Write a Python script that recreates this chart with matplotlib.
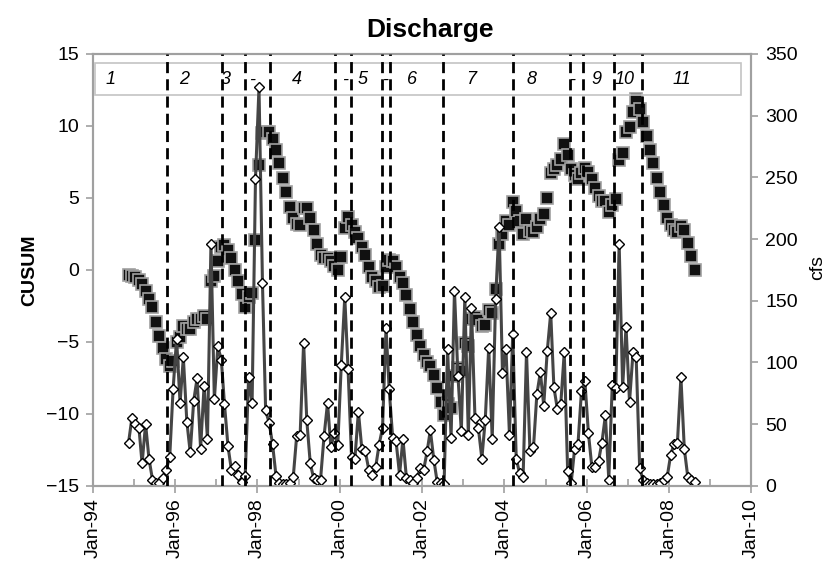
import matplotlib
matplotlib.use("Agg")
import matplotlib.pyplot as plt
import matplotlib.dates as mdates
from matplotlib.patches import Rectangle
import pandas as pd

plt.rcParams['font.family'] = ['Liberation Sans', 'DejaVu Sans']

# monthly observations, Nov 1994 - Aug 2008 (plotted mid-month)
months = pd.date_range('1994-11-01', '2008-08-01', freq='MS') + pd.Timedelta(days=14)

# mean monthly discharge (cfs), one row per year
discharge = [
    35, 55,
    50, 47, 18, 50, 22, 5, 2, 2, 6, 13, 23, 78,
    119, 67, 104, 52, 27, 69, 87, 30, 81, 38, 196, 70,
    113, 102, 66, 32, 13, 16, 9, 3, 8, 88, 67, 249,
    323, 164, 61, 51, 34, 8, 2, 1, 1, 2, 7, 40,
    41, 116, 53, 18, 6, 5, 5, 40, 67, 31, 43, 33,
    98, 153, 95, 23, 22, 60, 30, 28, 13, 9, 15, 33,
    47, 128, 78, 39, 36, 9, 38, 6, 5, 2, 6, 14,
    13, 28, 45, 21, 3, 2, 1, 111, 39, 158, 89, 44,
    153, 41, 144, 55, 47, 22, 53, 112, 38, 151, 210, 91,
    111, 41, 123, 22, 10, 7, 108, 28, 31, 74, 92, 65,
    109, 140, 80, 62, 66, 108, 12, 2, 30, 34, 77, 85,
    43, 15, 15, 20, 35, 57, 5, 82, 79, 196, 80, 129,
    68, 108, 104, 14, 5, 2, 1, 1, 1, 2, 5, 7,
    25, 34, 35, 88, 30, 7, 5, 3,
]

# cumulative sum of standardised anomalies
cusum = [
    -0.35, -0.4,
    -0.5, -0.7, -1.0, -1.5, -2.0, -2.6, -3.6, -4.6, -5.4, -6.2, -6.7, -6.3,
    -5.0, -4.7, -3.9, -4.1, -4.1, -3.6, -3.4, -3.4, -3.2, -3.4, -0.8, -0.4,
    0.6, 1.6, 1.7, 1.4, 0.8, 0.0, -0.8, -1.7, -2.6, -1.9, -1.6, 2.1,
    7.3, 9.5, 9.6, 9.6, 9.1, 8.3, 7.4, 6.4, 5.4, 4.4, 3.6, 3.2,
    3.1, 4.3, 4.3, 3.6, 2.8, 1.8, 1.0, 0.8, 0.8, 0.6, 0.3, 0.0,
    0.9, 2.9, 3.7, 3.1, 2.6, 2.2, 1.6, 1.0, 0.2, -0.5, -0.8, -1.2,
    -1.1, 0.2, 0.7, 0.6, 0.2, -0.5, -0.9, -1.75, -2.7, -3.6, -4.5, -5.3,
    -5.9, -6.4, -6.7, -7.3, -8.2, -9.2, -10.1, -9.3, -9.6, -7.4, -6.8, -7.0,
    -5.1, -5.3, -3.4, -3.3, -3.5, -3.9, -3.8, -2.8, -3.0, -1.3, 1.8, 2.5,
    3.4, 3.1, 4.7, 4.1, 3.4, 2.5, 3.5, 2.7, 2.6, 3.0, 3.5, 3.9,
    5.0, 6.7, 7.0, 7.3, 7.7, 8.75, 8.0, 7.0, 6.6, 6.3, 6.7, 7.1,
    6.8, 6.3, 5.7, 5.1, 4.8, 4.8, 4.0, 4.5, 4.9, 7.6, 8.1, 9.6,
    9.9, 11.0, 11.9, 11.2, 10.25, 9.3, 8.3, 7.4, 6.4, 5.4, 4.5, 3.6,
    3.1, 2.8, 2.65, 3.05, 2.8, 1.9, 0.95, 0.0,
]

# change points separating the segments
change_dates = pd.to_datetime([
    '1995-10-22', '1997-02-24', '1997-09-12', '1998-04-20', '1999-11-18',
    '2000-04-06', '2001-01-06', '2001-03-22', '2002-07-01', '2004-03-19',
    '2005-08-01', '2005-11-28', '2006-09-03', '2007-05-06',
])

seg_labels = ['1', '2', '3', '-', '4', '-', '5', '-', '6', '7', '8', '-', '9', '10', '11']
seg_label_dates = pd.to_datetime([
    '1994-06-07', '1996-03-19', '1997-03-25', '1997-11-13', '1998-12-16',
    '2000-02-15', '2000-07-22', '2001-02-10', '2001-10-01', '2003-03-16',
    '2004-09-01', '2005-08-19', '2006-03-28', '2006-12-04', '2008-04-22',
])

spine_col = '#a0a0a0'

fig = plt.figure(figsize=(8.39, 5.69), dpi=100)
ax = fig.add_axes([0.1105, 0.1464, 0.7852, 0.7587])
ax2 = ax.twinx()

# CUSUM on the left axis
ax.plot(months, cusum, linestyle='none', marker='s', markersize=8.5,
        markerfacecolor='#111111', markeredgecolor='#a0a0a0', markeredgewidth=1.2)
ax.set_ylim(-15, 15)
ax.set_yticks(range(-15, 16, 5))

# discharge on the right axis
ax2.plot(months, discharge, color='#454545', linewidth=2.2, marker='D', markersize=5.5,
         markerfacecolor='white', markeredgecolor='black', markeredgewidth=1.0)
ax2.set_ylim(0, 350)
ax2.set_yticks(range(0, 351, 50))

ax.set_xlim(pd.Timestamp('1994-01-01'), pd.Timestamp('2010-01-01'))
ax.xaxis.set_major_locator(mdates.YearLocator(2))
ax.xaxis.set_minor_locator(mdates.YearLocator(1))
ax.xaxis.set_major_formatter(mdates.DateFormatter('%b-%y'))
for lab in ax.get_xticklabels():
    lab.set_rotation(90)

for a in (ax, ax2):
    for s in a.spines.values():
        s.set_color(spine_col)
        s.set_linewidth(1.5)
ax.tick_params(axis='x', which='major', direction='inout', length=10, width=1.2,
               color=spine_col, labelsize=14, pad=4)
ax.tick_params(axis='x', which='minor', direction='in', length=5, width=1.2, color=spine_col)
ax.tick_params(axis='y', direction='out', length=5, width=1.2, color=spine_col, labelsize=14, pad=5)
ax2.tick_params(axis='y', direction='out', length=5, width=1.2, color=spine_col, labelsize=14, pad=5)

# change point lines
for d in change_dates:
    ax2.axvline(d, color='black', linestyle=(0, (4, 2.2)), linewidth=2.0, zorder=5)

# segment label strip
ax2.add_patch(Rectangle((0.004, 0.905), 0.980, 0.073, transform=ax2.transAxes,
                        facecolor='none', edgecolor='#c4c4c4', linewidth=1.2, zorder=1))
for d, t in zip(seg_label_dates, seg_labels):
    ax2.text(d, 0.94, t, transform=ax2.get_xaxis_transform(), ha='center', va='center',
             fontsize=13, fontstyle='italic')

fig.text(430 / 839, 1 - 30 / 569, 'Discharge', ha='center', va='center',
         fontsize=19, fontweight='bold')
fig.text(30 / 839, 1 - 270 / 569, 'CUSUM', ha='center', va='center', rotation=90,
         fontsize=14, fontweight='bold')
fig.text(818 / 839, 1 - 268 / 569, 'cfs', ha='center', va='center', rotation=90, fontsize=14)

fig.savefig('out.png', dpi=100)
